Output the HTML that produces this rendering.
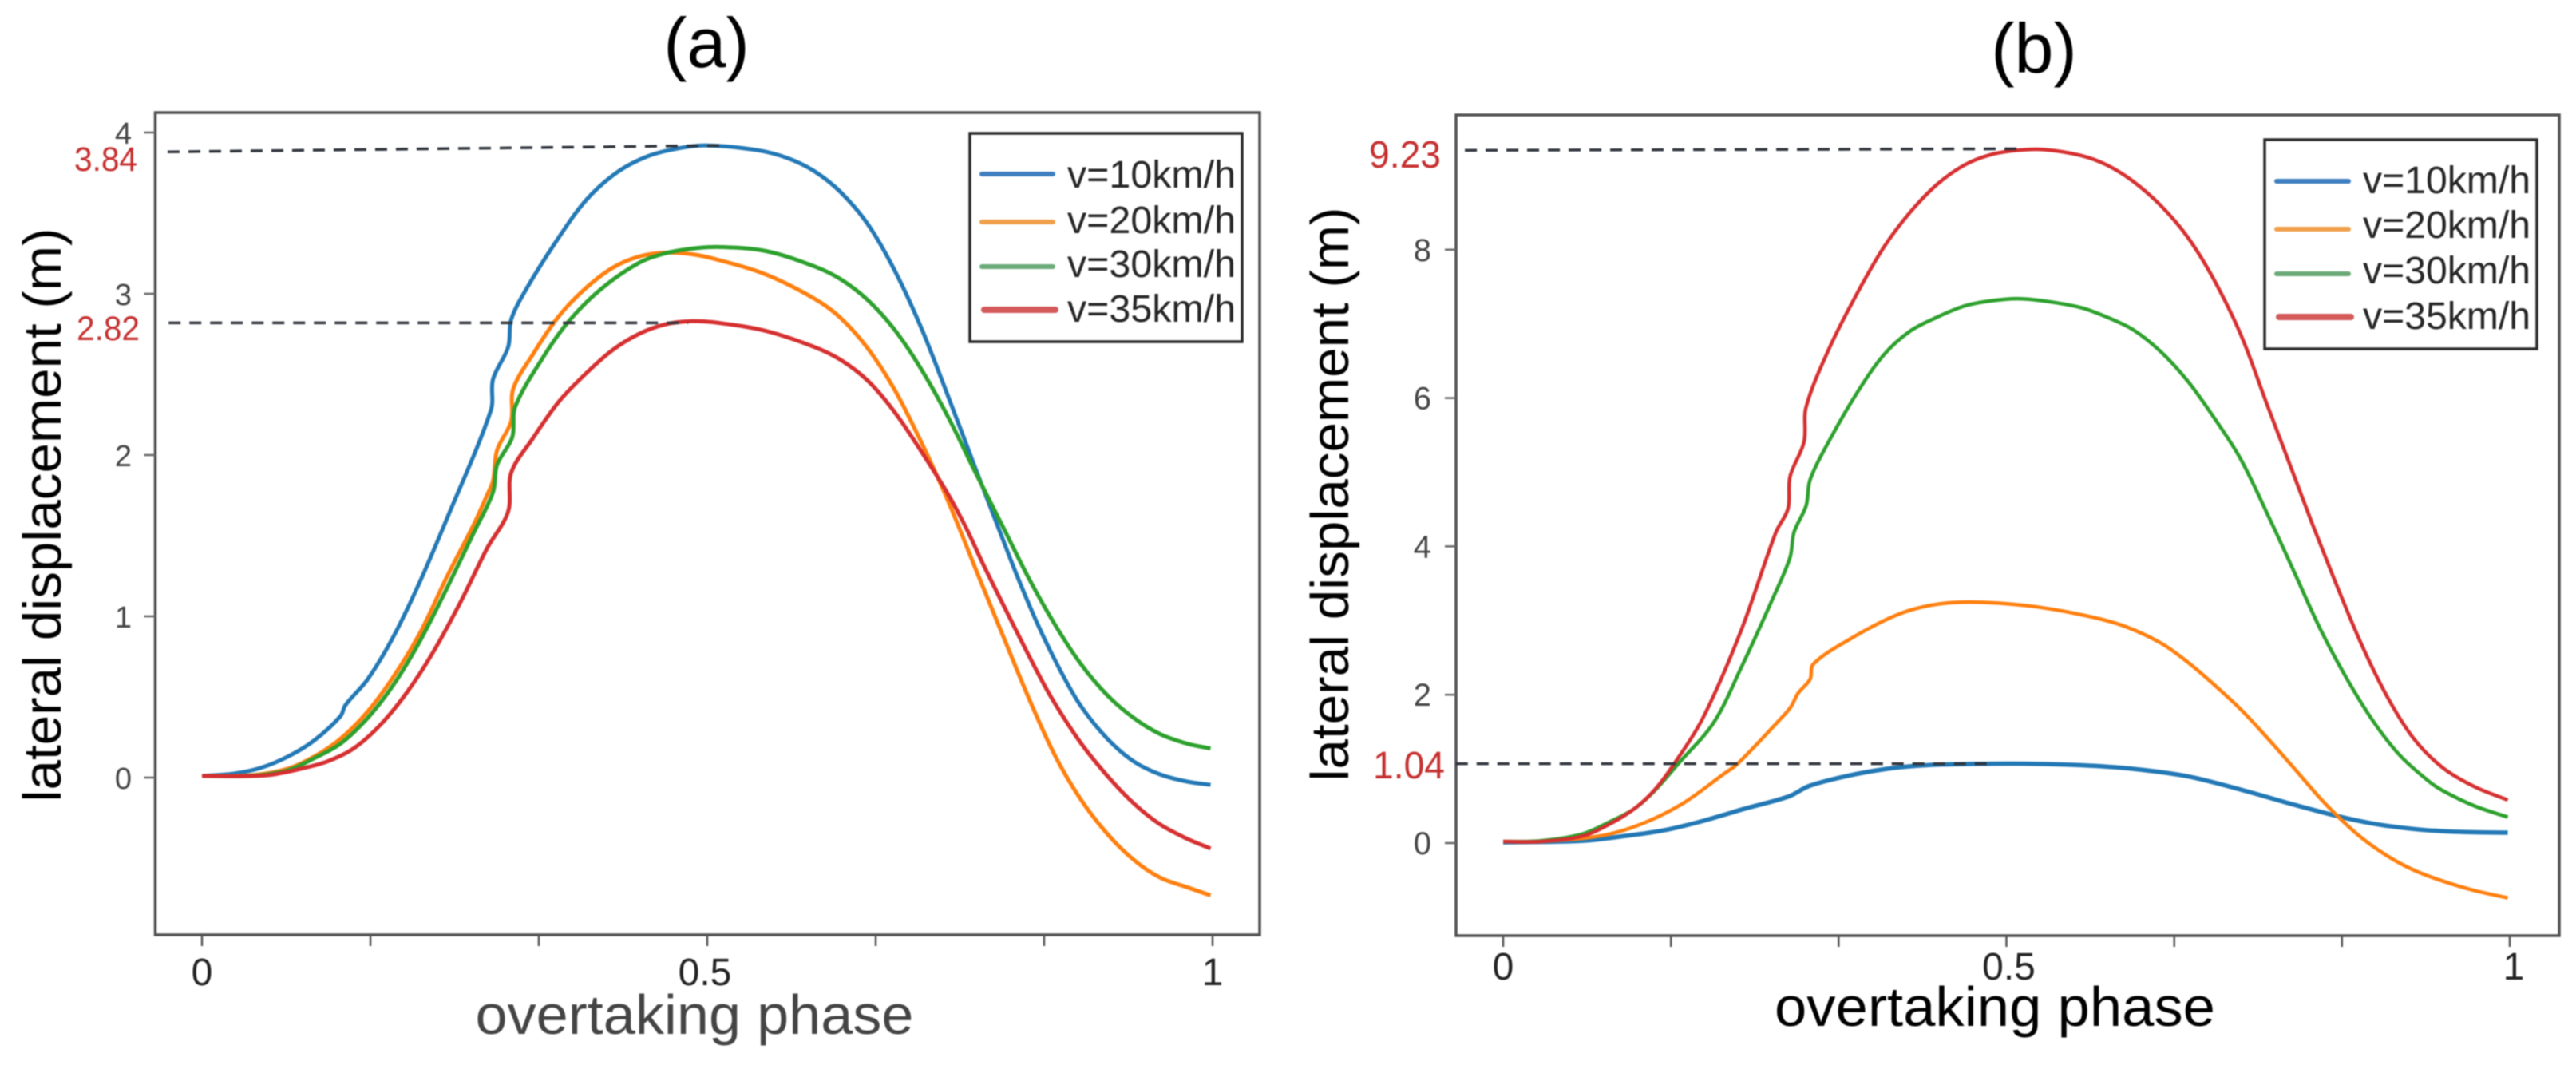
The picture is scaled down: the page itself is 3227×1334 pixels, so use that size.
<!DOCTYPE html>
<html lang="en">
<head>
<meta charset="utf-8">
<title>Lateral displacement vs overtaking phase</title>
<style>
html,body{margin:0;padding:0;background:#fff;}
#figure{position:absolute;left:0;top:0;width:3227px;height:1334px;filter:blur(0.7px);font-family:"Liberation Sans",sans-serif;}
text{font-family:"Liberation Sans",sans-serif;}
</style>
</head>
<body>
<svg id="figure" xmlns="http://www.w3.org/2000/svg" width="3227" height="1334" viewBox="0 0 3227 1334">
  <rect x="0" y="0" width="3227" height="1334" fill="#fff"/>
  <g id="panel-a">
    <text x="885" y="84" font-size="88" text-anchor="middle" fill="#000">(a)</text>
    <text transform="translate(76,645) rotate(-90)" font-size="67" text-anchor="middle" textLength="719" lengthAdjust="spacingAndGlyphs" fill="#000">lateral displacement (m)</text>
    <text x="870" y="1295" font-size="70" text-anchor="middle" textLength="549" lengthAdjust="spacingAndGlyphs" fill="#444">overtaking phase</text>
  </g>
  <g id="panel-b">
    <text x="2548" y="91" font-size="88" text-anchor="middle" fill="#000">(b)</text>
    <text transform="translate(1689,619) rotate(-90)" font-size="67" text-anchor="middle" textLength="719" lengthAdjust="spacingAndGlyphs" fill="#000">lateral displacement (m)</text>
    <text x="2499" y="1285" font-size="70" text-anchor="middle" textLength="552" lengthAdjust="spacingAndGlyphs" fill="#000">overtaking phase</text>
  </g>
</svg>
<script>
// ---------- shared data ----------
var seriesNames = ["v=10km/h","v=20km/h","v=30km/h","v=35km/h"];
var xTickValues = [0,0.1667,0.3333,0.5,0.6667,0.8333,1];
var xTickLabels = ["0","","","0.5","","","1"];

// ---------- panel (a) data ----------
var aYTicks = [0,1,2,3,4];
var aPhase10 = [0,.032,.058,.085,.111,.137,.142,.164,.190,.216,.242,.286,.288,.303,.306,.321,.351,.380,.410,.440,.470,.500,.550,.580,.606,.632,.659,.685,.711,.738,.764,.788,.806,.827,.848,.869,.896,.922,.948,.975,.998];
var aValue10 = [.01,.025,.06,.13,.23,.38,.45,.61,.88,1.22,1.60,2.28,2.47,2.67,2.84,3.03,3.33,3.58,3.75,3.85,3.90,3.92,3.89,3.84,3.76,3.63,3.43,3.15,2.80,2.37,1.94,1.55,1.26,.95,.68,.45,.24,.10,.02,-.025,-.045];
var aPhase20 = [0,.05,.085,.111,.137,.164,.190,.216,.242,.269,.282,.288,.292,.306,.308,.327,.353,.379,.406,.432,.458,.485,.511,.558,.606,.632,.659,.685,.711,.738,.769,.790,.817,.843,.869,.896,.922,.948,.975,.998];
var aValue20 = [.01,.015,.055,.13,.24,.41,.63,.90,1.24,1.57,1.75,1.84,2.03,2.21,2.41,2.62,2.86,3.03,3.16,3.23,3.255,3.245,3.21,3.12,2.97,2.85,2.66,2.41,2.09,1.72,1.24,.92,.51,.15,-.13,-.35,-.51,-.62,-.68,-.73];
var aPhase30 = [0,.05,.085,.111,.137,.164,.190,.216,.242,.269,.288,.292,.307,.310,.337,.363,.395,.432,.458,.485,.511,.558,.606,.632,.659,.685,.711,.738,.764,.793,.817,.843,.869,.896,.922,.948,.975,.998];
var aValue30 = [.01,.012,.045,.12,.21,.37,.58,.85,1.17,1.52,1.77,1.94,2.11,2.30,2.60,2.83,3.03,3.19,3.25,3.28,3.29,3.265,3.17,3.09,2.96,2.78,2.54,2.24,1.91,1.55,1.25,.96,.71,.51,.37,.27,.21,.18];
var aPhase35 = [0,.05,.071,.098,.124,.150,.177,.203,.229,.256,.282,.303,.306,.327,.353,.379,.406,.432,.458,.485,.511,.558,.606,.632,.659,.685,.711,.738,.756,.774,.801,.827,.843,.869,.896,.922,.948,.975,.998];
var aValue35 = [.01,.01,.02,.055,.10,.18,.33,.53,.78,1.09,1.42,1.65,1.89,2.10,2.33,2.50,2.65,2.75,2.81,2.83,2.82,2.77,2.67,2.59,2.46,2.27,2.03,1.76,1.55,1.31,.97,.65,.47,.22,.01,-.16,-.29,-.38,-.44];

// ---------- panel (b) data ----------
var bYTicks = [0,2,4,6,8];
var bPhase10 = [0,.078,.118,.159,.199,.239,.284,.304,.340,.381,.421,.486,.521,.574,.626,.680,.733,.785,.830,.865,.904,.933,.965,.998];
var bValue10 = [.01,.03,.09,.17,.30,.46,.63,.77,.90,1.00,1.05,1.07,1.07,1.05,1.00,.90,.72,.52,.36,.26,.19,.16,.145,.14];
var bPhase20 = [0,.037,.098,.138,.178,.219,.233,.276,.286,.293,.305,.308,.342,.390,.426,.464,.521,.574,.614,.653,.680,.706,.733,.759,.785,.812,.830,.852,.878,.904,.933,.965,.998];
var bValue20 = [.02,.02,.10,.26,.53,.93,1.07,1.68,1.84,2.02,2.21,2.41,2.73,3.07,3.21,3.25,3.20,3.08,2.94,2.70,2.44,2.14,1.80,1.42,1.02,.60,.35,.08,-.17,-.36,-.51,-.64,-.74];
var bPhase30 = [0,.037,.078,.105,.130,.150,.174,.209,.236,.268,.285,.289,.301,.305,.325,.352,.378,.404,.431,.458,.484,.511,.537,.574,.600,.626,.653,.680,.706,.733,.765,.785,.812,.838,.865,.891,.918,.933,.965,.998];
var bValue30 = [.02,.03,.12,.28,.46,.70,1.07,1.62,2.35,3.30,3.85,4.19,4.55,4.90,5.45,6.08,6.58,6.90,7.09,7.24,7.31,7.34,7.31,7.22,7.09,6.92,6.63,6.23,5.74,5.17,4.27,3.68,2.88,2.22,1.63,1.18,.85,.71,.50,.35];
var bPhase35 = [0,.037,.078,.105,.130,.150,.170,.199,.236,.271,.283,.285,.299,.301,.325,.352,.378,.404,.431,.458,.484,.511,.537,.574,.600,.626,.653,.680,.706,.733,.759,.785,.804,.825,.852,.878,.904,.933,.965,.998];
var bValue35 = [.02,.02,.09,.25,.46,.71,1.07,1.70,2.85,4.19,4.51,4.94,5.41,5.88,6.70,7.42,8.03,8.50,8.88,9.14,9.28,9.34,9.35,9.27,9.14,8.92,8.60,8.17,7.60,6.85,5.91,4.98,4.30,3.58,2.70,1.98,1.42,1.02,.76,.58];

var seriesColors = ["#2278b5","#ff7f0e","#2ca02c","#d62f30"];
var legendColors = ["#3f7fc0","#f0a04b","#6aaa78","#d45a5a"];

var SVGNS = "http://www.w3.org/2000/svg";

function make(parent, tag, attrs, text){
  var node = document.createElementNS(SVGNS, tag);
  for (var key in attrs){ node.setAttribute(key, attrs[key]); }
  if (text !== undefined){ node.textContent = text; }
  parent.appendChild(node);
  return node;
}

// Smooth path through points that never overshoots short, kinked segments.
function smoothPath(pts){
  var d = "M" + pts[0][0].toFixed(1) + " " + pts[0][1].toFixed(1);
  function tangent(i){
    var a = pts[Math.max(i-1,0)], b = pts[Math.min(i+1,pts.length-1)];
    var dx = b[0]-a[0], dy = b[1]-a[1], len = Math.hypot(dx,dy) || 1;
    return [dx/len, dy/len];
  }
  for (var i = 0; i < pts.length-1; i++){
    var p = pts[i], q = pts[i+1];
    var seg = Math.hypot(q[0]-p[0], q[1]-p[1]) / 3;
    var t0 = tangent(i), t1 = tangent(i+1);
    d += "C" + (p[0]+t0[0]*seg).toFixed(1) + " " + (p[1]+t0[1]*seg).toFixed(1) + " " +
         (q[0]-t1[0]*seg).toFixed(1) + " " + (q[1]-t1[1]*seg).toFixed(1) + " " +
         q[0].toFixed(1) + " " + q[1].toFixed(1);
  }
  return d;
}

function drawPanel(cfg){
  var root = document.getElementById(cfg.id);
  function xScale(p){ return cfg.x0 + (cfg.x1 - cfg.x0) * p; }
  function yScale(v){ return cfg.y0 - cfg.unit * v; }

  // plot frame
  var frame = make(root, "rect", {x:cfg.left, y:cfg.top, width:cfg.right-cfg.left, height:cfg.bottom-cfg.top, fill:"#fff", stroke:"#505050", "stroke-width":3.5});
  
  

  // x ticks
  xTickValues.forEach(function(val, i){
    var tick = make(root, "line", {x1:xScale(val), x2:xScale(val), y1:cfg.bottom, y2:cfg.bottom+14, stroke:"#555", "stroke-width":2.5});
    
    
    if (xTickLabels[i]){
      var lab = make(root, "text", {x:xScale(val)+(i===3?cfg.midShift:(i===6?cfg.endShift:0)), y:cfg.xLabelBase, "font-size":cfg.xLabelSize, "text-anchor":"middle", fill:"#222"}, xTickLabels[i]);
      
      
    }
  });

  // y ticks
  cfg.yTicks.forEach(function(val){
    var tick = make(root, "line", {x1:cfg.left-14, x2:cfg.left, y1:yScale(val), y2:yScale(val), stroke:"#666", "stroke-width":2.5});
    
    
    var lab = make(root, "text", {x:cfg.yLabelRight, y:yScale(val)+14, "font-size":cfg.yLabelSize, "text-anchor":"end", fill:"#444"}, String(val));
    
    
  });

  // series
  cfg.series.forEach(function(s, i){
    var pts = s.phase.map(function(p, k){ return [xScale(p), yScale(s.value[k])]; });
    var path = make(root, "path", {d:smoothPath(pts), fill:"none", stroke:seriesColors[i], "stroke-width":cfg.lineWidths[i], "stroke-linejoin":"round"});
    
    
  });

  // reference dashes
  cfg.refs.forEach(function(r){
    var ref = make(root, "line", {x1:xScale(r.p1), y1:yScale(r.v1), x2:xScale(r.p2), y2:yScale(r.v2), stroke:"#30353d", "stroke-width":3.5, "stroke-dasharray":"15 11"});
    
    
    var lab = make(root, "text", {x:r.labelX, y:r.labelBase, "font-size":r.size, textLength:r.labelW, lengthAdjust:"spacingAndGlyphs", fill:"#c62f2f"}, r.label);
    
    
  });

  // legend
  var lg = cfg.legend;
  var box = make(root, "rect", {x:lg.left, y:lg.top, width:lg.right-lg.left, height:lg.bottom-lg.top, fill:"none", stroke:"#2a2a2a", "stroke-width":3.5});
  
  
  seriesNames.forEach(function(name, i){
    var shift = i === 3 ? 3 : 0;
    var sw = make(root, "line", {x1:lg.lineX1+shift, x2:lg.lineX2+shift, y1:lg.lineY[i], y2:lg.lineY[i], stroke:legendColors[i], "stroke-width":i===3?8:6, "stroke-linecap":"round"});
    
    
    var tx = make(root, "text", {x:lg.textX, y:lg.textBase[i], "font-size":48, textLength:lg.textW, lengthAdjust:"spacingAndGlyphs", fill:"#262626"}, name);
    
    
  });
}

drawPanel({
  id:"panel-a", left:194.5, right:1578, top:141, bottom:1171,
  x0:253, x1:1519, y0:974, unit:202,
  yTicks:aYTicks, yLabelRight:165, yLabelSize:38, xLabelBase:1234, xLabelSize:48, midShift:-3, endShift:0,
  lineWidths:[5,5,5,5],
  series:[
    {phase:aPhase10, value:aValue10},
    {phase:aPhase20, value:aValue20},
    {phase:aPhase30, value:aValue30},
    {phase:aPhase35, value:aValue35}
  ],
  refs:[
    {p1:-.034, v1:3.88, p2:.520, v2:3.92, label:"3.84", labelX:93, labelBase:214, labelW:79, size:43},
    {p1:-.033, v1:2.82, p2:.481, v2:2.82, label:"2.82", labelX:96, labelBase:426, labelW:79, size:43}
  ],
  legend:{left:1215, top:167, right:1556, bottom:428, lineX1:1230, lineX2:1319, lineY:[218,278,334,388], textX:1337, textBase:[235,292,347,403], textW:211}
});

drawPanel({
  id:"panel-b", left:1824, right:3206, top:144, bottom:1172,
  x0:1883, x1:3144, y0:1056, unit:92.9,
  yTicks:bYTicks, yLabelRight:1793, yLabelSize:40, xLabelBase:1227, xLabelSize:48, midShift:3, endShift:5,
  lineWidths:[5.5,4.5,4.5,4.5],
  series:[
    {phase:bPhase10, value:bValue10},
    {phase:bPhase20, value:bValue20},
    {phase:bPhase30, value:bValue30},
    {phase:bPhase35, value:bValue35}
  ],
  refs:[
    {p1:-.038, v1:9.34, p2:.514, v2:9.36, label:"9.23", labelX:1715, labelBase:210, labelW:90, size:48},
    {p1:-.047, v1:1.07, p2:.485, v2:1.07, label:"1.04", labelX:1720, labelBase:975, labelW:90, size:48}
  ],
  legend:{left:2837, top:175, right:3178, bottom:437, lineX1:2852, lineX2:2942, lineY:[227,287,343,397], textX:2960, textBase:[242,298,355,412], textW:210}
});
</script>
</body>
</html>
